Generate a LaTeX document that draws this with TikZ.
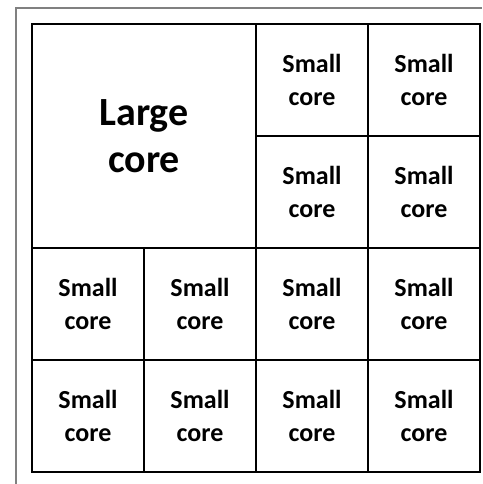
\documentclass[tikz,border=0pt]{standalone}
\usepackage{fontspec}
\setmainfont{Carlito}
\tikzset{
  cell/.style={draw=black, line width=2pt, minimum width=112pt, minimum height=112pt, inner sep=0pt, align=center, font=\fontsize{26}{33}\selectfont\bfseries},
  bigcell/.style={cell, minimum width=224pt, minimum height=224pt, font=\fontsize{40}{47}\selectfont\bfseries},
  frameline/.style={draw=black!50, line width=1.5pt}
}
\begin{document}
\begin{tikzpicture}[x=1pt,y=-1pt]
\useasboundingbox (0,0) rectangle (482,484);
\coordinate (fa) at (16,484);
\coordinate (fb) at (16,8);
\coordinate (fc) at (482,8);
\draw[frameline] (fa) -- (fb) -- (fc);
\node[bigcell] (L) at (144,136) {Large\\core};
\node[cell] (s13) at (312,80) {Small\\core};
\node[cell] (s14) at (424,80) {Small\\core};
\node[cell] (s23) at (312,192) {Small\\core};
\node[cell] (s24) at (424,192) {Small\\core};
\node[cell] (s31) at (88,304) {Small\\core};
\node[cell] (s32) at (200,304) {Small\\core};
\node[cell] (s33) at (312,304) {Small\\core};
\node[cell] (s34) at (424,304) {Small\\core};
\node[cell] (s41) at (88,416) {Small\\core};
\node[cell] (s42) at (200,416) {Small\\core};
\node[cell] (s43) at (312,416) {Small\\core};
\node[cell] (s44) at (424,416) {Small\\core};
\end{tikzpicture}
\end{document}
